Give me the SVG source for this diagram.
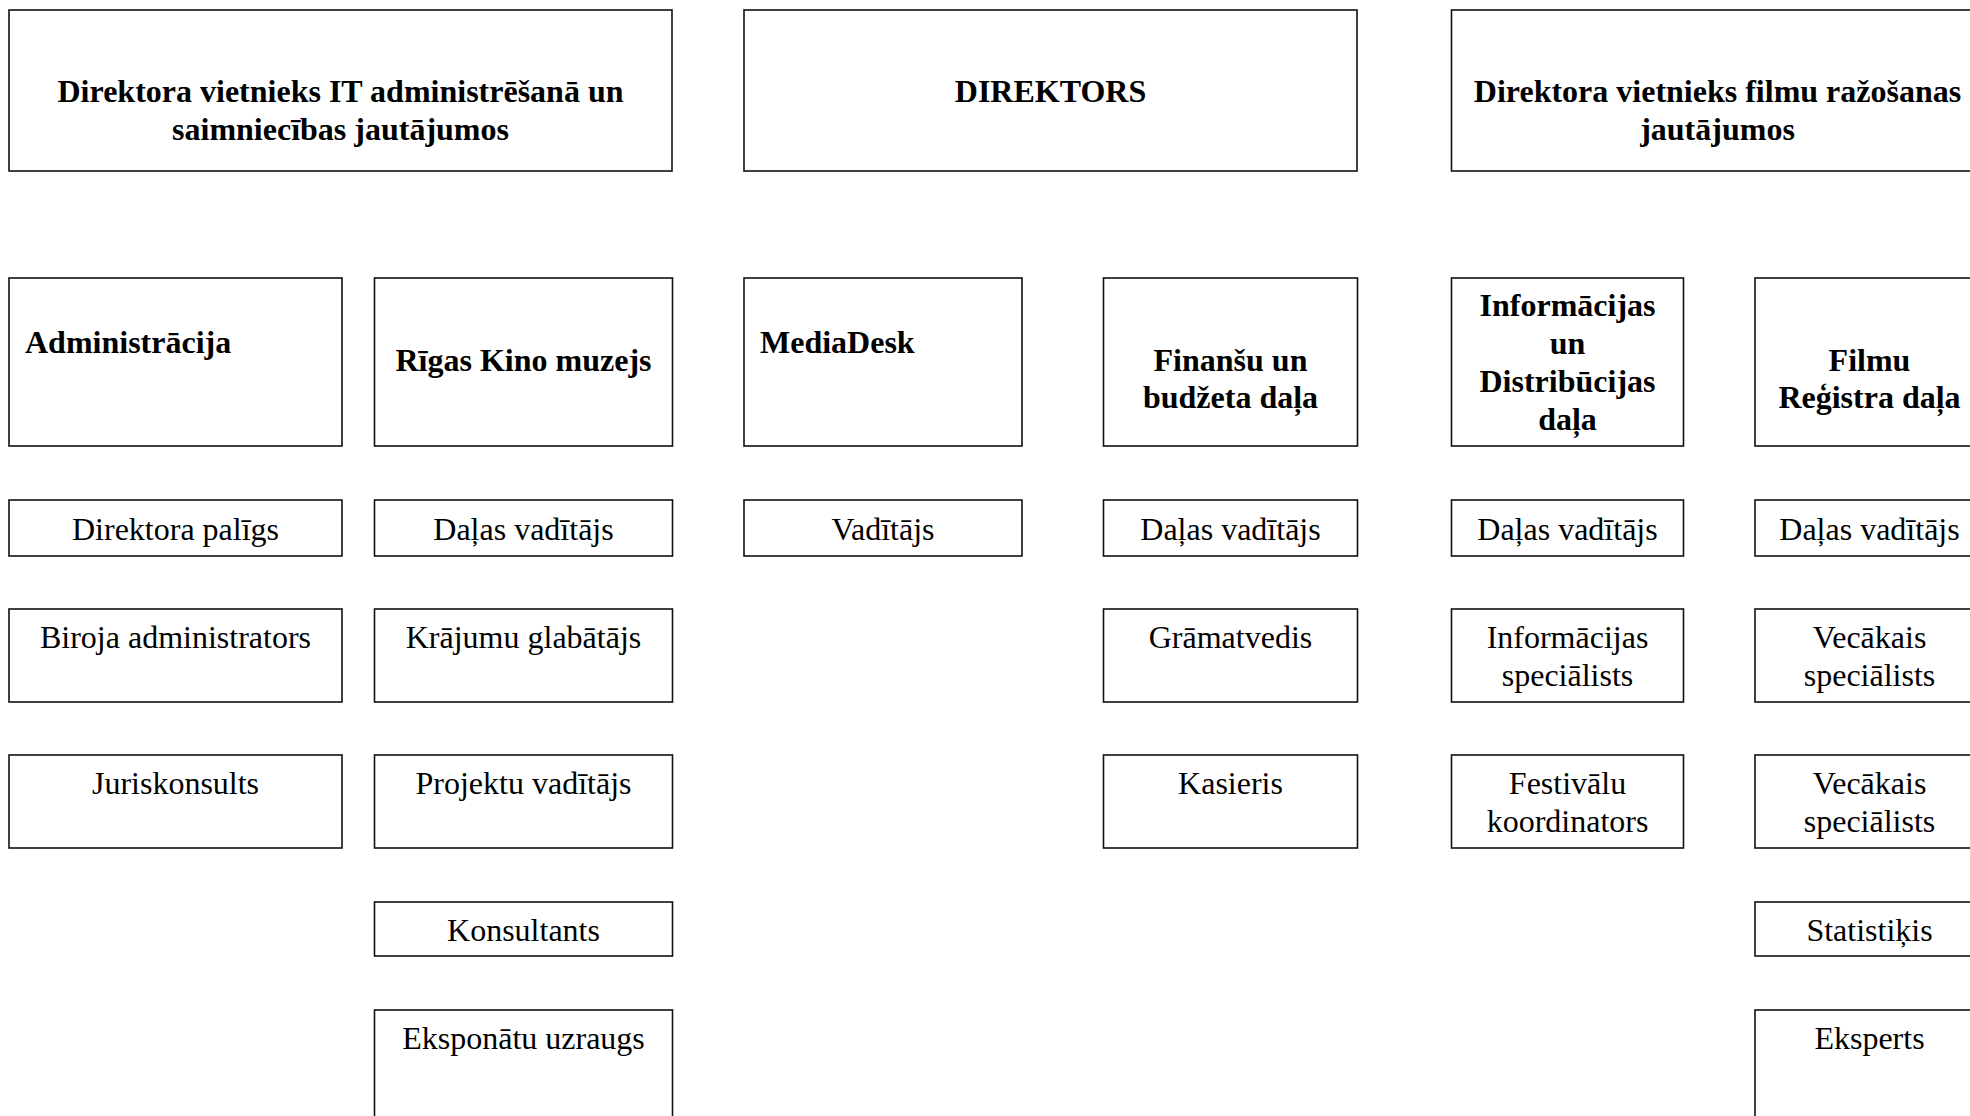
<svg xmlns="http://www.w3.org/2000/svg" width="1970" height="1116" viewBox="0 0 1970 1116">
<style>
rect{fill:#fff;stroke:#111;stroke-width:1.6}
text{font-family:"Liberation Serif","Times New Roman",serif;font-size:32px;fill:#000}
.b{font-weight:bold}
.c{text-anchor:middle}
</style>
<rect x="0" y="0" width="1970" height="1116" style="stroke:none;fill:#fff"/>
<g id="connectors"/>
<g id="n-deputy-it"><rect x="9" y="10" width="663" height="161"/><text class="b c" x="340.5" y="102">Direktora vietnieks IT administrēšanā un</text><text class="b c" x="340.5" y="140">saimniecības jautājumos</text></g>
<g id="n-director"><rect x="744" y="10" width="613" height="161"/><text class="b c" x="1050.5" y="102">DIREKTORS</text></g>
<g id="n-deputy-film"><rect x="1451.5" y="10" width="533" height="161"/><text class="b c" x="1717.5" y="102">Direktora vietnieks filmu ražošanas</text><text class="b c" x="1717.5" y="140">jautājumos</text></g>

<g id="n-admin"><rect x="9" y="278" width="333" height="168"/><text class="b" x="25" y="353">Administrācija</text></g>
<g id="n-museum"><rect x="374.5" y="278" width="298" height="168"/><text class="b c" x="523.5" y="371">Rīgas Kino muzejs</text></g>
<g id="n-mediadesk"><rect x="744" y="278" width="278" height="168"/><text class="b" x="760" y="353">MediaDesk</text></g>
<g id="n-finance"><rect x="1103.5" y="278" width="254" height="168"/><text class="b c" x="1230.5" y="371">Finanšu un</text><text class="b c" x="1230.5" y="408">budžeta daļa</text></g>
<g id="n-info"><rect x="1451.5" y="278" width="232" height="168"/><text class="b c" x="1567.5" y="316">Informācijas</text><text class="b c" x="1567.5" y="354">un</text><text class="b c" x="1567.5" y="392">Distribūcijas</text><text class="b c" x="1567.5" y="430">daļa</text></g>
<g id="n-register"><rect x="1755" y="278" width="229" height="168"/><text class="b c" x="1869.5" y="371">Filmu</text><text class="b c" x="1869.5" y="408">Reģistra daļa</text></g>

<g id="n-assistant"><rect x="9" y="500" width="333" height="56"/><text class="c" x="175.5" y="540">Direktora palīgs</text></g>
<g id="n-museum-head"><rect x="374.5" y="500" width="298" height="56"/><text class="c" x="523.5" y="540">Daļas vadītājs</text></g>
<g id="n-mediadesk-head"><rect x="744" y="500" width="278" height="56"/><text class="c" x="883" y="540">Vadītājs</text></g>
<g id="n-finance-head"><rect x="1103.5" y="500" width="254" height="56"/><text class="c" x="1230.5" y="540">Daļas vadītājs</text></g>
<g id="n-info-head"><rect x="1451.5" y="500" width="232" height="56"/><text class="c" x="1567.5" y="540">Daļas vadītājs</text></g>
<g id="n-register-head"><rect x="1755" y="500" width="229" height="56"/><text class="c" x="1869.5" y="540">Daļas vadītājs</text></g>

<g id="n-office-admin"><rect x="9" y="609" width="333" height="93"/><text class="c" x="175.5" y="648">Biroja administrators</text></g>
<g id="n-keeper"><rect x="374.5" y="609" width="298" height="93"/><text class="c" x="523.5" y="648">Krājumu glabātājs</text></g>
<g id="n-accountant"><rect x="1103.5" y="609" width="254" height="93"/><text class="c" x="1230.5" y="648">Grāmatvedis</text></g>
<g id="n-info-spec"><rect x="1451.5" y="609" width="232" height="93"/><text class="c" x="1567.5" y="648">Informācijas</text><text class="c" x="1567.5" y="686">speciālists</text></g>
<g id="n-senior-1"><rect x="1755" y="609" width="229" height="93"/><text class="c" x="1869.5" y="648">Vecākais</text><text class="c" x="1869.5" y="686">speciālists</text></g>

<g id="n-lawyer"><rect x="9" y="755" width="333" height="93"/><text class="c" x="175.5" y="794">Juriskonsults</text></g>
<g id="n-project"><rect x="374.5" y="755" width="298" height="93"/><text class="c" x="523.5" y="794">Projektu vadītājs</text></g>
<g id="n-cashier"><rect x="1103.5" y="755" width="254" height="93"/><text class="c" x="1230.5" y="794">Kasieris</text></g>
<g id="n-festival"><rect x="1451.5" y="755" width="232" height="93"/><text class="c" x="1567.5" y="794">Festivālu</text><text class="c" x="1567.5" y="832">koordinators</text></g>
<g id="n-senior-2"><rect x="1755" y="755" width="229" height="93"/><text class="c" x="1869.5" y="794">Vecākais</text><text class="c" x="1869.5" y="832">speciālists</text></g>

<g id="n-consultant"><rect x="374.5" y="902" width="298" height="54"/><text class="c" x="523.5" y="941">Konsultants</text></g>
<g id="n-statistician"><rect x="1755" y="902" width="229" height="54"/><text class="c" x="1869.5" y="941">Statistiķis</text></g>

<g id="n-exhibit"><rect x="374.5" y="1010" width="298" height="130"/><text class="c" x="523.5" y="1049">Eksponātu uzraugs</text></g>
<g id="n-expert"><rect x="1755" y="1010" width="229" height="130"/><text class="c" x="1869.5" y="1049">Eksperts</text></g>
</svg>
